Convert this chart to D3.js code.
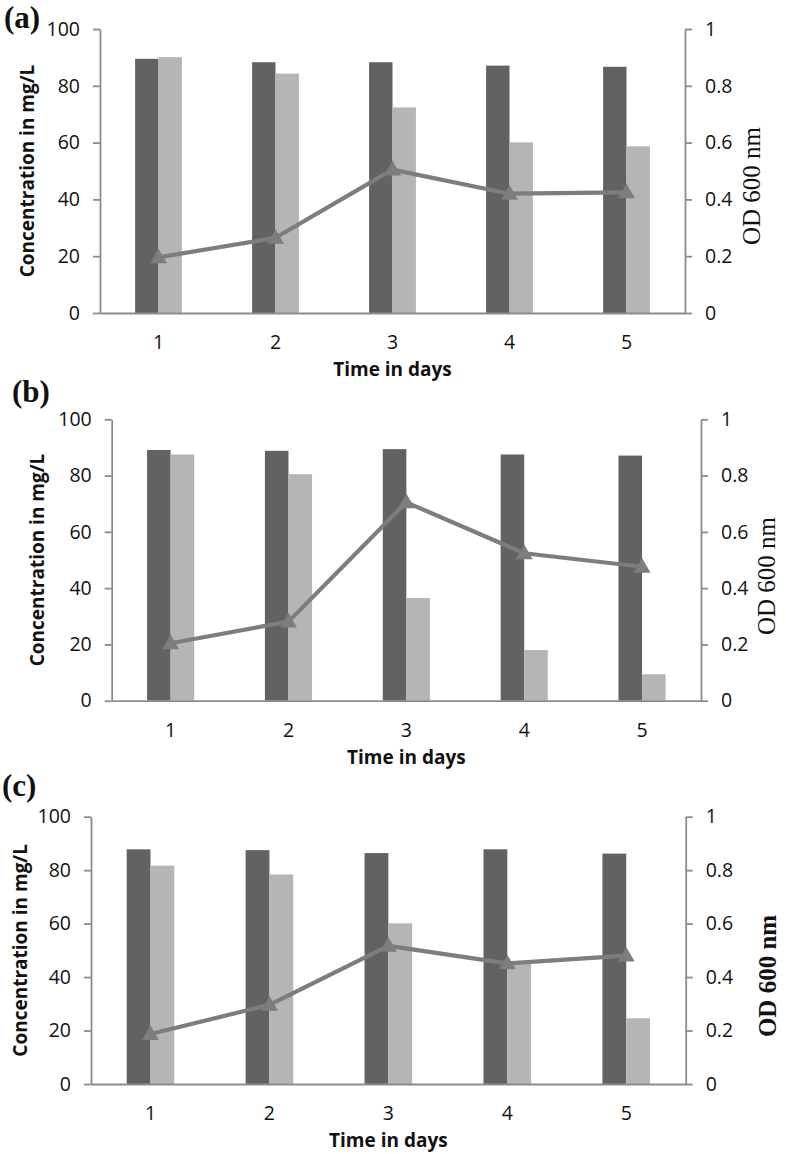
<!DOCTYPE html>
<html>
<head>
<meta charset="utf-8">
<script src="https://cdn.jsdelivr.net/npm/d3@7"></script>
<style>
  html, body { margin: 0; padding: 0; background: #fff; }
  svg { display: block; }
  .tick text { font-family: 'Open Sans', sans-serif; font-size: 19.5px; fill: #111; }
  .axis-title { font-family: 'Open Sans', sans-serif; font-size: 19px; font-weight: bold; fill: #111; }
  .od-title { font-family: 'Liberation Serif', 'Times New Roman', serif; font-size: 25px; fill: #111; }
  .panel-label { font-family: 'Liberation Serif', 'Times New Roman', serif; font-size: 31px; font-weight: bold; fill: #111; }
</style>
</head>
<body>
<div id="chart"></div>
<script>
// categories and ticks
const days = ['1', '2', '3', '4', '5']
const concTicks = [0, 20, 40, 60, 80, 100]
const odTicks = [0, 0.2, 0.4, 0.6, 0.8, 1]

// panel (a)
const darkA  = [89.5, 88.3, 88.3, 87.1, 86.7]
const lightA = [90.1, 84.3, 72.4, 60.1, 58.7]
const odA    = [0.196, 0.265, 0.505, 0.42, 0.425]

// panel (b)
const darkB  = [89.1, 88.8, 89.4, 87.5, 87.1]
const lightB = [87.5, 80.5, 36.5, 18.0, 9.4]
const odB    = [0.204, 0.281, 0.705, 0.524, 0.476]

// panel (c)
const darkC  = [87.8, 87.5, 86.4, 87.8, 86.2]
const lightC = [81.7, 78.4, 60.1, 45.0, 24.6]
const odC    = [0.187, 0.296, 0.517, 0.451, 0.48]

const panelLabels = ['(a)', '(b)', '(c)']
const xTitle = 'Time in days'
const yTitle = 'Concentration in mg/L'
const y2Title = 'OD 600 nm'

// layout of each panel (pixels)
const layout = [
  { left: 100,   right: 685,   top: 29,    bottom: 313,  labelX: 4,  labelY: 28,  yTitleX: 27, odX: 752, odY: 186, odBold: false },
  { left: 111.7, right: 701,   top: 419.3, bottom: 700.7, labelX: 12, labelY: 402, yTitleX: 37, odX: 767, odY: 576, odBold: false },
  { left: 91,    right: 685.7, top: 816.7, bottom: 1084, labelX: 2,  labelY: 796, yTitleX: 20, odX: 768, odY: 976, odBold: true }
]

const panels = [
  { dark: darkA, light: lightA, od: odA },
  { dark: darkB, light: lightB, od: odB },
  { dark: darkC, light: lightC, od: odC }
]

const colors = { dark: '#626262', light: '#b5b5b5', line: '#7d7d7d', axis: '#8c8c8c' }

const width = 786
const height = 1154

const svg = d3.select('#chart')
  .append('svg')
  .attr('width', width)
  .attr('height', height)
  .attr('viewBox', `0 0 ${width} ${height}`)

svg.append('rect').attr('width', width).attr('height', height).attr('fill', '#fff')

panels.forEach((p, i) => {
  const L = layout[i]
  const g = svg.append('g')

  const x = d3.scaleBand()
    .domain(days)
    .range([L.left, L.right])
    .paddingInner(0.6)
    .paddingOuter(0.3)

  const xSeries = d3.scaleBand()
    .domain(['dark', 'light'])
    .range([0, x.bandwidth()])

  const y = d3.scaleLinear().domain([0, 100]).range([L.bottom, L.top])
  const y2 = d3.scaleLinear().domain([0, 1]).range([L.bottom, L.top])

  const rows = days.map((d, k) => ({ day: d, dark: p.dark[k], light: p.light[k], od: p.od[k] }))

  // bars
  ;['dark', 'light'].forEach(key => {
    g.append('g')
      .selectAll('rect')
      .data(rows)
      .join('rect')
      .attr('x', d => x(d.day) + xSeries(key))
      .attr('y', d => y(d[key]))
      .attr('width', xSeries.bandwidth())
      .attr('height', d => y(0) - y(d[key]))
      .attr('fill', colors[key])
  })

  // left axis
  g.append('g')
    .attr('transform', `translate(${L.left},0)`)
    .call(d3.axisLeft(y).tickValues(concTicks).tickSize(7).tickSizeOuter(0).tickPadding(13))
    .call(ax => ax.selectAll('line, path').attr('stroke', colors.axis).attr('stroke-width', 1.8))

  // right axis
  g.append('g')
    .attr('transform', `translate(${L.right},0)`)
    .call(d3.axisRight(y2).tickValues(odTicks).tickFormat(d3.format('~g')).tickSize(7).tickSizeOuter(0).tickPadding(13))
    .call(ax => ax.selectAll('line, path').attr('stroke', colors.axis).attr('stroke-width', 1.8))

  // bottom axis
  g.append('g')
    .attr('transform', `translate(0,${L.bottom})`)
    .call(d3.axisBottom(x).tickSize(0).tickSizeOuter(0))
    .call(ax => ax.select('.domain').attr('stroke', colors.axis).attr('stroke-width', 1.8))
    .call(ax => ax.selectAll('text').attr('y', 36).attr('dy', 0))

  // OD line + triangles
  const line = d3.line()
    .x(d => x(d.day) + x.bandwidth() / 2)
    .y(d => y2(d.od))

  g.append('path')
    .datum(rows)
    .attr('d', line)
    .attr('fill', 'none')
    .attr('stroke', colors.line)
    .attr('stroke-width', 4.2)
    .attr('stroke-linejoin', 'round')

  g.selectAll('.marker')
    .data(rows)
    .join('path')
    .attr('class', 'marker')
    .attr('transform', d => `translate(${x(d.day) + x.bandwidth() / 2},${y2(d.od) + 1})`)
    .attr('d', d3.symbol(d3.symbolTriangle, 125))
    .attr('fill', colors.line)

  // titles
  g.append('text')
    .attr('class', 'axis-title')
    .attr('x', (L.left + L.right) / 2)
    .attr('y', L.bottom + 63)
    .attr('text-anchor', 'middle')
    .text(xTitle)

  g.append('text')
    .attr('class', 'axis-title')
    .attr('transform', `translate(${L.yTitleX},${(L.top + L.bottom) / 2}) rotate(-90)`)
    .attr('dy', '0.36em')
    .attr('text-anchor', 'middle')
    .text(yTitle)

  g.append('text')
    .attr('class', 'od-title')
    .attr('transform', `translate(${L.odX},${L.odY}) rotate(-90)`)
    .attr('dy', '0.33em')
    .attr('text-anchor', 'middle')
    .style('font-weight', L.odBold ? 'bold' : 'normal')
    .text(y2Title)

  g.append('text')
    .attr('class', 'panel-label')
    .attr('x', L.labelX)
    .attr('y', L.labelY)
    .text(panelLabels[i])
})
</script>
</body>
</html>
